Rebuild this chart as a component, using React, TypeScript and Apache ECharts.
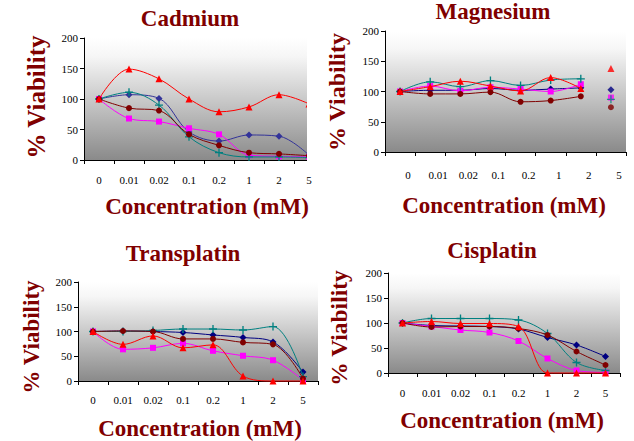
import React, { useEffect, useRef } from "react";
import * as echarts from "echarts";

const categories = ["0", "0.01", "0.02", "0.1", "0.2", "1", "2", "5"];
const yTicks = { min: 0, max: 200, interval: 50 };

// Cadmium
const cadmiumNavy = [100, 107, 101, 46, 31, 41, 39, 8];
const cadmiumMagenta = [100, 68, 63, 52, 42, 8, 6, 5];
const cadmiumTeal = [100, 111, 90, 38, 12, 5, 5, 4];
const cadmiumDarkRed = [100, 85, 81, 42, 24, 12, 10, 7];
const cadmiumRed = [100, 149, 133, 100, 79, 87, 107, 92];

// Magnesium (value at "5" is drawn as an isolated point)
const magnesiumNavy = [100, 102, 102, 105, 102, 104, 106, 103];
const magnesiumMagenta = [100, 109, 101, 107, 104, 100, 112, 90];
const magnesiumTeal = [100, 116, 108, 118, 110, 119, 121, 87];
const magnesiumDarkRed = [100, 96, 96, 99, 83, 85, 92, 74];
const magnesiumRed = [100, 108, 117, 109, 101, 123, 105, 138];

// Transplatin
const transplatinNavy = [100, 101, 100, 98, 93, 88, 79, 18];
const transplatinMagenta = [100, 64, 67, 76, 61, 51, 42, 2];
const transplatinTeal = [100, 100, 102, 105, 105, 103, 110, 9];
const transplatinDarkRed = [100, 101, 100, 85, 85, 78, 74, 5];
const transplatinRed = [100, 74, 91, 67, 73, 10, 0, 0];

// Cisplatin
const cisplatinNavy = [100, 95, 94, 93, 88, 71, 56, 33];
const cisplatinMagenta = [100, 93, 86, 81, 64, 29, 5, 1];
const cisplatinTeal = [100, 109, 109, 109, 106, 79, 21, 5];
const cisplatinDarkRed = [100, 92, 93, 93, 89, 76, 43, 16];
const cisplatinRed = [100, 103, 99, 99, 93, 0, 0, 0];

const FONT = "Liberation Serif";
const TITLE_COLOR = "#800000";
const PLUS = "path://M2.5,0h1v2.5h2.5v1h-2.5v2.5h-1v-2.5h-2.5v-1h2.5z";

const styles = [
  { key: "navy", color: "#000080", symbol: "diamond", size: 7 },
  { key: "magenta", color: "#FF00FF", symbol: "rect", size: 6 },
  { key: "teal", color: "#008080", symbol: PLUS, size: 8 },
  { key: "darkred", color: "#800000", symbol: "circle", size: 6 },
  { key: "red", color: "#FF0000", symbol: "triangle", size: 7 },
];

const panels = [
  {
    title: "Cadmium",
    data: [cadmiumNavy, cadmiumMagenta, cadmiumTeal, cadmiumDarkRed, cadmiumRed],
    navy: "#333399",
    grid: { left: 84, top: 38, width: 240, height: 122 },
    labelMargin: 14,
    labelPad: 0,
    isolatedLast: false,
    titlePos: [190, 18],
    xTitlePos: [207, 206],
    yTitlePos: [36, 97],
    yTitleSize: 25,
  },
  {
    title: "Magnesium",
    data: [magnesiumNavy, magnesiumMagenta, magnesiumTeal, magnesiumDarkRed, magnesiumRed],
    navy: "#000080",
    grid: { left: 385, top: 31, width: 241, height: 121 },
    labelMargin: 17,
    labelPad: 16,
    isolatedLast: true,
    titlePos: [493, 11],
    xTitlePos: [504, 205],
    yTitlePos: [337, 92],
    yTitleSize: 24,
  },
  {
    title: "Transplatin",
    data: [transplatinNavy, transplatinMagenta, transplatinTeal, transplatinDarkRed, transplatinRed],
    navy: "#000080",
    grid: { left: 78, top: 282, width: 240, height: 99 },
    labelMargin: 13,
    labelPad: 0,
    isolatedLast: false,
    titlePos: [183, 253],
    xTitlePos: [200, 428],
    yTitlePos: [31, 337],
    yTitleSize: 23,
  },
  {
    title: "Cisplatin",
    data: [cisplatinNavy, cisplatinMagenta, cisplatinTeal, cisplatinDarkRed, cisplatinRed],
    navy: "#000080",
    grid: { left: 388, top: 273, width: 232, height: 100 },
    labelMargin: 14,
    labelPad: 0,
    isolatedLast: false,
    titlePos: [492, 250],
    xTitlePos: [502, 420],
    yTitlePos: [339, 328],
    yTitleSize: 23.5,
  },
];

export default function App() {
  const ref = useRef<HTMLDivElement>(null);

  useEffect(() => {
    if (!ref.current) return;
    const chart = echarts.init(ref.current, null, { renderer: "svg" });

    const bg = () =>
      new echarts.graphic.LinearGradient(0, 0, 0, 1, [
        { offset: 0, color: "#ffffff" },
        { offset: 0.15, color: "#f6f6f6" },
        { offset: 1, color: "#8a8a8a" },
      ]);

    const grids: any[] = [];
    const xAxes: any[] = [];
    const yAxes: any[] = [];
    const series: any[] = [];
    const graphics: any[] = [];

    panels.forEach((p, i) => {
      grids.push({
        ...p.grid,
        show: true,
        backgroundColor: bg(),
        borderWidth: 0,
        containLabel: false,
      });
      xAxes.push({
        type: "category",
        gridIndex: i,
        data: categories,
        boundaryGap: true,
        axisLine: { show: true, onZero: false, lineStyle: { color: "#000", width: 1 } },
        axisTick: { show: true, interval: 0, length: 4, lineStyle: { color: "#000" } },
        axisLabel: {
          interval: 0,
          margin: p.labelMargin,
          fontSize: 11,
          color: "#000",
          fontFamily: FONT,
          padding: [0, 0, 0, p.labelPad],
        },
        splitLine: { show: false },
      });
      yAxes.push({
        type: "value",
        gridIndex: i,
        min: yTicks.min,
        max: yTicks.max,
        interval: yTicks.interval,
        axisLine: { show: true, lineStyle: { color: "#000", width: 1 } },
        axisTick: { show: true, length: 4, lineStyle: { color: "#000" } },
        axisLabel: { margin: 6, fontSize: 11, color: "#000", fontFamily: FONT },
        splitLine: { show: false },
      });

      p.data.forEach((values, k) => {
        const st = styles[k];
        const color = st.key === "navy" ? p.navy : st.color;
        const lineData = p.isolatedLast
          ? values.map((v, j) => (j === values.length - 1 ? "-" : v))
          : values;
        series.push({
          type: "line",
          name: `${p.title} ${st.key}`,
          xAxisIndex: i,
          yAxisIndex: i,
          data: lineData,
          smooth: 0.35,
          clip: false,
          symbol: st.symbol,
          symbolSize: st.size,
          showSymbol: true,
          lineStyle: { color, width: 1 },
          itemStyle: { color },
          z: 2 + k,
        });
        if (p.isolatedLast) {
          series.push({
            type: "scatter",
            name: `${p.title} ${st.key} 5mM`,
            xAxisIndex: i,
            yAxisIndex: i,
            data: values.map((v, j) => (j === values.length - 1 ? v : "-")),
            symbol: st.symbol,
            symbolSize: st.size,
            itemStyle: { color },
            z: 2 + k,
          });
        }
      });

      graphics.push({
        type: "text",
        x: p.titlePos[0],
        y: p.titlePos[1],
        style: {
          text: p.title,
          font: `bold 23px "${FONT}"`,
          fill: TITLE_COLOR,
          textAlign: "center",
          textVerticalAlign: "middle",
        },
        z: 50,
      });
      graphics.push({
        type: "text",
        x: p.xTitlePos[0],
        y: p.xTitlePos[1],
        style: {
          text: "Concentration (mM)",
          font: `bold 23px "${FONT}"`,
          fill: TITLE_COLOR,
          textAlign: "center",
          textVerticalAlign: "middle",
        },
        z: 50,
      });
      graphics.push({
        type: "text",
        x: p.yTitlePos[0],
        y: p.yTitlePos[1],
        rotation: Math.PI / 2,
        style: {
          text: "% Viability",
          font: `bold ${p.yTitleSize}px "${FONT}"`,
          fill: TITLE_COLOR,
          textAlign: "center",
          textVerticalAlign: "middle",
        },
        z: 50,
      });
    });

    // the Cadmium panel is cut off at its right edge in the reference
    graphics.push({
      type: "rect",
      shape: { x: 307, y: 25, width: 19, height: 150 },
      style: { fill: "#ffffff" },
      z: 40,
    });
    graphics.push({
      type: "rect",
      shape: { x: 312, y: 175, width: 12, height: 15 },
      style: { fill: "#ffffff" },
      z: 40,
    });

    chart.setOption({
      animation: false,
      backgroundColor: "#ffffff",
      grid: grids,
      xAxis: xAxes,
      yAxis: yAxes,
      series,
      graphic: { elements: graphics },
    });

    return () => chart.dispose();
  }, []);

  return (
    <div
      ref={ref}
      style={{ position: "fixed", left: 0, top: 0, width: 634, height: 441, background: "#fff" }}
    />
  );
}
